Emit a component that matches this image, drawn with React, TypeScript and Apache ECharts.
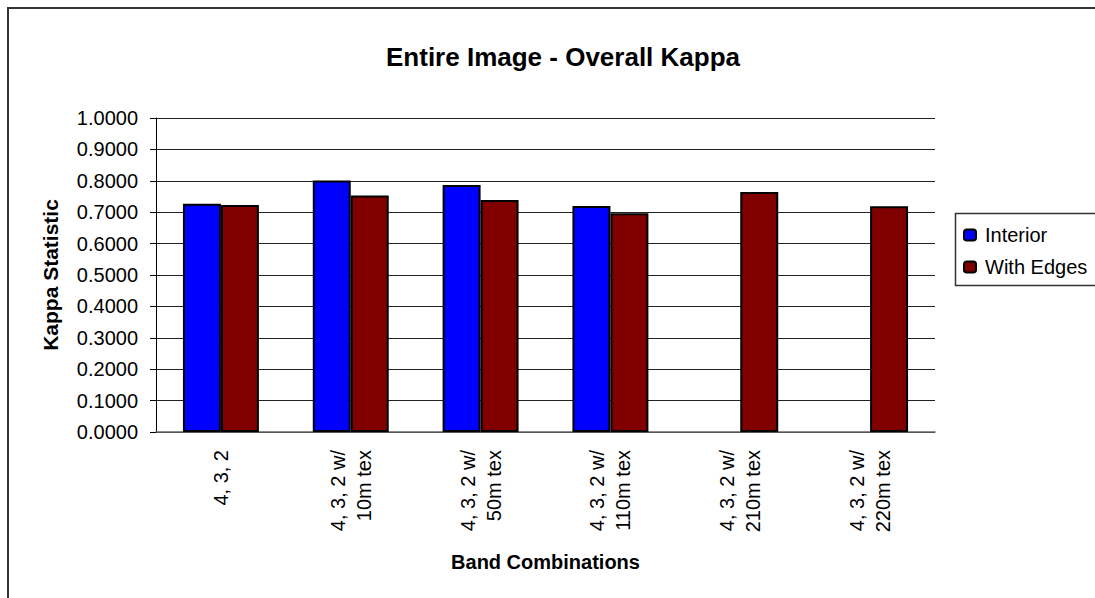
import React, { useEffect, useRef } from "react";
import * as echarts from "echarts";

const categories = [
  "4, 3, 2",
  "4, 3, 2 w/\n10m tex",
  "4, 3, 2 w/\n50m tex",
  "4, 3, 2 w/\n110m tex",
  "4, 3, 2 w/\n210m tex",
  "4, 3, 2 w/\n220m tex",
];
const interior = [0.727, 0.801, 0.787, 0.72, null, null];
const withEdges = [0.723, 0.753, 0.739, 0.697, 0.764, 0.719];
const FONT = "'Liberation Sans', Arial, sans-serif";

export default function App() {
  const ref = useRef<HTMLDivElement>(null);
  useEffect(() => {
    const chart = echarts.init(ref.current!, null, { renderer: "svg" });
    chart.setOption({
      animation: false,
      backgroundColor: "#fff",
      textStyle: { fontFamily: FONT },
      title: {
        text: "Entire Image - Overall Kappa",
        left: 558,
        textAlign: "center",
        top: 39,
        textStyle: { fontFamily: FONT, fontSize: 26, fontWeight: "bold", color: "#000" },
      },
      graphic: [
        {
          type: "polyline",
          shape: { points: [[8, 598], [8, 8], [1095, 8]] },
          style: { stroke: "#333", lineWidth: 2, fill: null },
          silent: true,
        },
        {
          type: "rect",
          shape: { x: 955.5, y: 213.5, width: 200, height: 72 },
          style: { stroke: "#333", lineWidth: 1.5, fill: null },
          silent: true,
          z: 10,
        },
      ],
      legend: {
        orient: "vertical",
        left: 955,
        top: 213,
        padding: [12, 0, 9, 8],
        borderWidth: 0,
        itemWidth: 12,
        itemHeight: 11,
        itemGap: 12,
        textStyle: { fontFamily: FONT, fontSize: 20, color: "#000", padding: [0, 0, 0, 4] },
        data: ["Interior", "With Edges"],
      },
      grid: { left: 156, right: 160, top: 118, bottom: 166, containLabel: false },
      xAxis: {
        type: "category",
        data: categories,
        name: "Band Combinations",
        nameLocation: "middle",
        nameGap: 120,
        nameTextStyle: { fontFamily: FONT, fontSize: 20, fontWeight: "bold", color: "#000" },
        axisLine: { lineStyle: { color: "#666", width: 1.5 } },
        axisTick: { show: false },
        axisLabel: {
          rotate: 90,
          margin: 18,
          fontFamily: FONT,
          fontSize: 20,
          color: "#000",
          lineHeight: 26,
          interval: 0,
        },
      },
      yAxis: {
        type: "value",
        min: 0,
        max: 1,
        interval: 0.1,
        name: "Kappa Statistic",
        nameLocation: "middle",
        nameGap: 95,
        nameTextStyle: { fontFamily: FONT, fontSize: 21, fontWeight: "bold", color: "#000" },
        axisLine: { show: true, lineStyle: { color: "#000", width: 1 } },
        axisTick: { show: true, inside: false, length: 6, lineStyle: { color: "#000" } },
        axisLabel: {
          margin: 18,
          fontFamily: FONT,
          fontSize: 20,
          color: "#000",
          formatter: (v: number) => v.toFixed(4),
        },
        splitLine: { show: true, lineStyle: { color: "#222", width: 1 } },
      },
      series: [
        {
          name: "Interior",
          type: "bar",
          data: interior,
          barGap: "0%",
          barCategoryGap: "41.5%",
          itemStyle: { color: "#0000FF", borderColor: "#000", borderWidth: 2 },
        },
        {
          name: "With Edges",
          type: "bar",
          data: withEdges,
          barGap: "0%",
          barCategoryGap: "41.5%",
          itemStyle: { color: "#800000", borderColor: "#000", borderWidth: 2 },
        },
      ],
    });
    return () => chart.dispose();
  }, []);
  return (
    <div
      ref={ref}
      style={{ position: "fixed", left: 0, top: 0, width: 1095, height: 598 }}
    />
  );
}
